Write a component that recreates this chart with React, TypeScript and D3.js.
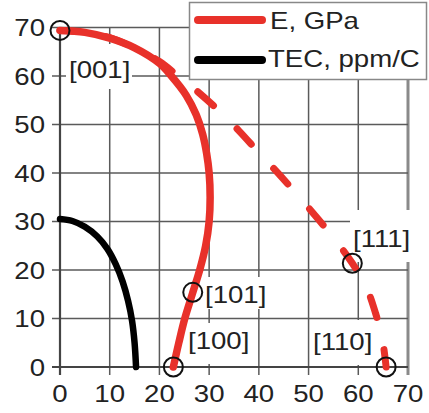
import React from "react";
import * as d3 from "d3";

// ---- data ----
const xTicks = [0, 10, 20, 30, 40, 50, 60, 70];
const yTicks = [0, 10, 20, 30, 40, 50, 60, 70];

// E, GPa — solid branch ([001] -> [101] -> [100])
const eSolidX = [0, 5, 10, 15, 20, 22.4, 25.4, 27.4, 28.7, 29.5, 30.0, 30.2, 30.0, 29.3, 28.1, 26.6, 25.1, 23.9, 22.8];
const eSolidY = [69.4, 69, 67.8, 65.8, 62.6, 60, 56, 52, 48, 44, 40, 35, 30, 25, 20, 15, 10, 5, 0];

// E, GPa — dashed branch ([001] -> [111] -> [110])
const eDashX = [0, 5, 10, 16, 20, 24, 28, 32, 36, 40, 44, 48, 52, 55.5, 58.8, 61.6, 63.5, 64.8, 65.6];
const eDashY = [69.4, 69, 67.9, 65.3, 63, 59.8, 56.5, 52.8, 48.7, 44.2, 39.8, 35.2, 30.4, 26, 21.4, 16.5, 11, 6, 0];

// TEC, ppm/C
const tecX = [0, 2.5, 5, 7.5, 9.5, 11.2, 12.6, 13.7, 14.5, 15.0, 15.3];
const tecY = [30.5, 30.1, 28.9, 26.9, 24.4, 21.2, 17.6, 13.6, 9.5, 5.0, 0];

// crystallographic direction markers
const markerLabels = ["[001]", "[101]", "[100]", "[111]", "[110]"];
const markerX = [0, 26.7, 22.8, 58.8, 65.6];
const markerY = [69.4, 15.4, 0, 21.4, 0];

const legendLabels = ["E, GPa", "TEC, ppm/C"];

// ---- layout ----
const W = 429;
const H = 413;
const X0 = 60, X1 = 408, Y0 = 367, Y1 = 27.5;
// label placement: [left x, baseline y, box top offset, box bottom offset]
const labelPlace: [number, number, number, number][] = [
  [69, 78, -34, 11],
  [205, 303, -26, 6],
  [188, 349, -26, 15],
  [353, 247, -37, 15],
  [313, 350, -30, 15],
];
const FONT = "'Liberation Sans', Arial, Helvetica, sans-serif";
const FS = 23;
const SX = 1.2;
const TXT = "#222";
const GRID = "#5a5a5a";
const RED = "#e8312a";

export default function App() {
  const x = d3.scaleLinear().domain([0, 70]).range([X0, X1]);
  const y = d3.scaleLinear().domain([0, 70]).range([Y0, Y1]);
  const line = d3
    .line<[number, number]>()
    .x((d) => x(d[0]))
    .y((d) => y(d[1]))
    .curve(d3.curveCatmullRom.alpha(0.5));
  const zip = (a: number[], b: number[]) => a.map((v, i) => [v, b[i]] as [number, number]);

  const txt = (s: string, tx: number, ty: number, anchor: string, key?: string | number) => (
    <text
      key={key}
      transform={`translate(${tx},${ty}) scale(${SX},1)`}
      textAnchor={anchor}
      fontFamily={FONT}
      fontSize={FS}
      fill={TXT}
    >
      {s}
    </text>
  );

  return (
    <svg width={W} height={H} style={{ position: "absolute", left: 0, top: 0, background: "#fff" }}>
      <rect width={W} height={H} fill="#fff" />
      {/* grid */}
      {xTicks.slice(1).map((t) => (
        <line key={"gx" + t} x1={x(t)} x2={x(t)} y1={y(70)} y2={y(0) + 8} stroke={t === 70 ? "#8a8a8a" : GRID} strokeWidth={t === 70 ? 3 : 1.5} />
      ))}
      {yTicks.slice(1).map((t) => (
        <line key={"gy" + t} x1={x(0) - 8} x2={x(70)} y1={y(t)} y2={y(t)} stroke={GRID} strokeWidth={1.5} />
      ))}
      {/* axes */}
      <line x1={x(0)} x2={x(0)} y1={y(70)} y2={y(0) + 8} stroke="#444" strokeWidth={2.2} />
      <line x1={x(0) - 8} x2={x(70)} y1={y(0)} y2={y(0)} stroke="#444" strokeWidth={2.2} />

      {/* tick labels */}
      {yTicks.map((t) => txt(String(t), 45, y(t) + 8.5, "end", "yl" + t))}
      {xTicks.map((t) => txt(String(t), x(t), 402, "middle", "xl" + t))}

      {/* label boxes */}
      {markerLabels.map((l, i) => {
        const [lx, ly, bt, bb] = labelPlace[i];
        return <rect key={"lb" + i} x={lx - 3} y={ly + bt} width={66} height={bb - bt} fill="#fff" />;
      })}

      {/* curves */}
      <path d={line(zip(tecX, tecY)) || ""} fill="none" stroke="#000" strokeWidth={6.5} strokeLinecap="round" />
      <path
        d={line(zip(eDashX, eDashY)) || ""}
        fill="none"
        stroke={RED}
        strokeWidth={7}
        strokeLinecap="round"
        strokeDasharray="21 33"
        strokeDashoffset={7.5}
      />
      <path d={line(zip(eSolidX, eSolidY)) || ""} fill="none" stroke={RED} strokeWidth={7.5} strokeLinecap="round" />

      {/* markers */}
      {markerLabels.map((l, i) => (
        <circle key={"mk" + i} cx={x(markerX[i])} cy={y(markerY[i])} r={9.5} fill="none" stroke="#111" strokeWidth={2} />
      ))}
      {markerLabels.map((l, i) => txt(l, labelPlace[i][0], labelPlace[i][1], "start", "ml" + i))}

      {/* legend */}
      <rect x={189.5} y={2.5} width={237} height={77} fill="#fff" stroke="#888" strokeWidth={1.5} />
      <line x1={198} x2={262} y1={20} y2={20} stroke={RED} strokeWidth={8} strokeLinecap="round" />
      <line x1={198} x2={262} y1={60} y2={60} stroke="#000" strokeWidth={8} strokeLinecap="round" />
      {txt(legendLabels[0], 270, 29, "start")}
      {txt(legendLabels[1], 268, 67, "start")}
    </svg>
  );
}
